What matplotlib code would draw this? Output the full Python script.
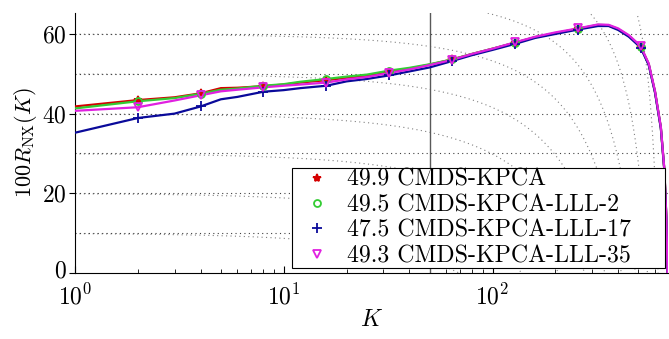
import matplotlib
matplotlib.use("Agg")
import matplotlib.pyplot as plt
import matplotlib.transforms as mtransforms
import numpy as np

# Quality curves 100*R_NX(K)
k_vals = [1, 2, 3, 4, 5, 6, 8, 10, 12, 16, 20, 25, 32, 40, 50, 64, 80, 100,
          128, 160, 200, 256, 320, 360, 400, 450, 512, 560, 600, 640, 665, 680, 689]

r_cmds = [41.8, 43.4, 44.1, 45.1, 46.4, 46.5, 46.9, 47.3, 47.8, 48.4, 49.0, 49.5,
          50.5, 51.3, 52.3, 53.6, 55.0, 56.3, 57.8, 59.2, 60.2, 61.3, 62.2, 62.1,
          61.2, 59.5, 56.8, 52.4, 45.5, 36.5, 26.0, 14.0, 0.0]
r_lll2 = [41.3, 43.1, 43.9, 45.0, 46.0, 46.3, 47.0, 47.4, 48.0, 48.7, 49.3, 49.8,
          50.8, 51.5, 52.4, 53.6, 55.0, 56.3, 57.8, 59.2, 60.2, 61.3, 62.3, 62.2,
          61.2, 59.5, 56.8, 52.4, 45.5, 36.5, 26.0, 14.0, 0.0]
r_lll17 = [35.2, 38.9, 40.0, 41.8, 43.6, 44.2, 45.5, 45.9, 46.4, 47.0, 48.1, 48.7,
           49.6, 50.6, 51.6, 53.2, 54.7, 56.0, 57.5, 59.0, 60.0, 61.1, 62.0, 62.0,
           61.0, 59.3, 56.6, 52.2, 45.3, 36.3, 25.8, 13.8, 0.0]
r_lll35 = [40.7, 41.6, 43.3, 44.6, 45.6, 46.0, 46.6, 47.0, 47.3, 47.8, 48.6, 49.2,
           50.2, 51.1, 52.2, 53.5, 55.0, 56.3, 57.9, 59.3, 60.4, 61.4, 62.4, 62.3,
           61.4, 59.7, 57.0, 52.6, 45.7, 36.7, 26.2, 14.2, 0.0]

series_labels = ["49.9 CMDS-KPCA", "49.5 CMDS-KPCA-LLL-2",
                 "47.5 CMDS-KPCA-LLL-17", "49.3 CMDS-KPCA-LLL-35"]
marker_k = [2, 4, 8, 16, 32, 64, 128, 256, 512]

n_minus_1 = 690
k_line = 50
q_levels = [0.1, 0.2, 0.3, 0.4, 0.5, 0.6, 0.7, 0.8, 0.9]
grid_levels = [10, 20, 30, 40, 50, 60]

plt.rcParams["font.family"] = "cmr10"
plt.rcParams["mathtext.fontset"] = "cm"
plt.rcParams["axes.formatter.use_mathtext"] = True

fig = plt.figure(figsize=(6.69, 3.39), dpi=100)
ax = fig.add_axes([0.112, 0.195, 0.886, 0.767])

# iso-lines of Q_NX and horizontal grid
kk = np.logspace(0, np.log10(n_minus_1 - 1), 400)
for q in q_levels:
    r = 100 * (n_minus_1 * q - kk) / (n_minus_1 - kk)
    ax.plot(kk, r, color="0.5", lw=0.8, ls=(0, (1, 3)), zorder=1)
for g in grid_levels:
    ax.axhline(g, color="0.25", lw=0.8, ls=(0, (1, 3)), zorder=1)
ax.axvline(k_line, color="0.35", lw=1.0, zorder=2)

styles = [
    dict(color="#d40000", marker="*", mfc="#e00000", ms=6),
    dict(color="#33cc33", marker="o", mfc="none", ms=5),
    dict(color="#0a0a9a", marker="+", ms=7),
    dict(color="#e020e0", marker="v", mfc="none", ms=6),
]
k_arr = np.array(k_vals, dtype=float)
for vals, lab, st in zip([r_cmds, r_lll2, r_lll17, r_lll35], series_labels, styles):
    v = np.array(vals)
    ax.plot(k_arr, v, color=st["color"], lw=1.6, zorder=3)
    mv = np.interp(np.log(marker_k), np.log(k_arr), v)
    ax.plot(marker_k, mv, ls="none", zorder=4, mew=1.3, **st)
    ax.plot([], [], ls="none", label=lab, mew=1.3, **st)

ax.set_xscale("log")
ax.set_xlim(1, n_minus_1)
ax.set_ylim(0, 65.3)
ax.set_yticks([0, 20, 40, 60])
ax.spines["top"].set_visible(False)
ax.spines["right"].set_visible(False)
ax.tick_params(axis="x", which="both", direction="in", labelsize=17, pad=8)
ax.tick_params(axis="x", which="major", length=5)
ax.tick_params(axis="x", which="minor", length=3)
ax.tick_params(axis="y", direction="out", length=4, labelsize=17, pad=2)
ax.set_xlabel("$K$", fontsize=17, labelpad=0)
ax.set_ylabel(r"$100R_{\mathrm{NX}}(K)$", fontsize=16, labelpad=2)

# nudge the "0" label up a little so it clears the 10^0 label
fig.canvas.draw()
zero_lbl = ax.get_yticklabels()[0]
zero_lbl.set_transform(zero_lbl.get_transform()
                       + mtransforms.ScaledTranslation(0, 3 / 72, fig.dpi_scale_trans))

# legend box stretched to the reference width (extra room on the right, like MATLAB)
leg = ax.legend(loc="lower left", bbox_to_anchor=(0.366, 0.017, 0.629, 0.3),
                mode="expand", fontsize=17.2, frameon=True, fancybox=False,
                handlelength=2.0, handletextpad=0.25, borderpad=0.05,
                labelspacing=0.14, borderaxespad=0)
leg.get_frame().set_edgecolor("black")
leg.get_frame().set_linewidth(0.8)
leg.get_frame().set_alpha(1)

fig.savefig("out.png", dpi=100)
